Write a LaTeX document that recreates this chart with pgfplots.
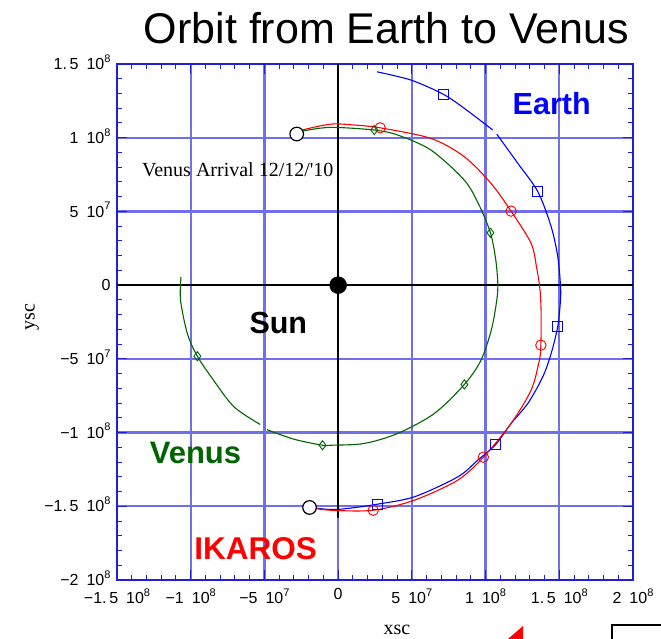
\documentclass[border=0pt]{standalone}
\usepackage{fontspec}
\setmainfont{Liberation Serif}
\setsansfont{Liberation Sans}
\usepackage{pgfplots}
\pgfplotsset{compat=1.18}
\definecolor{gridblue}{RGB}{112,112,236}
\definecolor{frameblue}{RGB}{30,30,220}
\definecolor{vgreen}{RGB}{0,100,0}
\pgfdeclarelayer{boxes}
\pgfplotsset{
  layers/mylayers/.define layer set={axis background,axis grid,boxes,axis ticks,axis lines,axis tick labels,pre main,main,axis descriptions,axis foreground}{},
}
\newcommand{\sci}[2]{#1\hspace{0.5em}10\raisebox{0.45em}{\fontsize{11}{11}\selectfont #2}}
\begin{document}
\begin{tikzpicture}
\begin{axis}[
  set layers=mylayers,
  at={(117pt,59pt)}, anchor=south west,
  scale only axis, width=516pt, height=516pt,
  xmin=-150, xmax=200, ymin=-200, ymax=150,
  xtick={-150,-100,-50,0,50,100,150,200},
  ytick={-200,-150,-100,-50,0,50,100,150},
  minor x tick num=4, minor y tick num=4,
  tick align=inside, major tick length=10pt, minor tick length=5pt,
  grid=major, grid style={color=gridblue, line width=2.2pt},
  axis line style={color=frameblue, line width=1.8pt},
  tick style={color=frameblue, line width=1pt},
  xticklabels={\sci{−1.\,5}{8},\sci{−1}{8},\sci{−5}{7},0,\sci{5}{7},\sci{1}{8},\sci{1.\,5}{8},\sci{2}{8}},
  yticklabels={\sci{−2}{8},\sci{−1.\,5}{8},\sci{−1}{8},\sci{−5}{7},0,\sci{5}{7},\sci{1}{8},\sci{1.\,5}{8}},
  ticklabel style={font=\sffamily\fontsize{16}{16}\selectfont, text=black},
  xticklabel style={anchor=north, yshift=-5pt},
  yticklabel style={anchor=base east, xshift=-3pt, yshift=-5.6pt},
  clip=false,
]
% white label boxes (over grid, under ticks)
\addplot[draw=none, fill=white, on layer=boxes] coordinates {(-142.5,-93) (-48.9,-93) (-48.9,-133.5) (-142.5,-133.5)} -- cycle;
\addplot[draw=none, fill=white, on layer=boxes] coordinates {(-142.5,86.9) (-2.8,86.9) (-2.8,69.3) (-142.5,69.3)} -- cycle;
\addplot[draw=none, fill=white, on layer=boxes] coordinates {(-97.1,-3.3) (-2.8,-3.3) (-2.8,-45.3) (-97.1,-45.3)} -- cycle;
\addplot[draw=none, fill=white, on layer=boxes] coordinates {(106.4,140.5) (193,140.5) (193,102.5) (106.4,102.5)} -- cycle;
\addplot[draw=none, fill=white, on layer=boxes] coordinates {(-146.6,-158) (97.6,-158) (97.6,-193) (-146.6,-193)} -- cycle;

% coordinate axes through the Sun
\addplot[black, line width=1.6pt] coordinates {(-150,0) (200,0)};
\addplot[black, line width=1.6pt] coordinates {(0,150) (0,-158)};

% Earth
\addplot[blue, line width=1.1pt, smooth, tension=0.5] coordinates {
(26.3,144.7) (49.4,139.1) (71.1,129.6) (85.6,119.9) (104.9,105.2)};
\addplot[blue, line width=1.1pt, smooth, tension=0.5] coordinates {
(107.6,102.4) (121.9,82.6) (135.5,63.3) (144.5,39.6) (149.0,19.2) (150.8,0)
(150.8,-10.2) (149.0,-27.8) (144.5,-46.3) (138.8,-62.2) (128.7,-80.2) (117.3,-93.8)
(106.9,-108.1) (94.7,-118.7) (81.1,-130.1) (51.6,-143.6) (26.5,-148.6) (6.4,-151.5)
(-5.0,-152.2) (-19.4,-150.8)};
\addplot[blue, only marks, mark=square, mark size=5pt, mark options={line width=0.9pt, fill=none}] coordinates {
(71.1,129.6) (135.5,63.3) (149.0,-27.8) (106.9,-108.1) (26.5,-148.6)};

% IKAROS
\addplot[red, line width=1.1pt, smooth, tension=0.5] coordinates {
(-19.4,-150.8) (-5.0,-152.7) (23.8,-152.7) (51.6,-145.9) (81.1,-132.3) (98.5,-116.7)
(117.3,-93.8) (130.9,-71.2) (136.5,-50.9) (137.5,-40.7) (137.7,-20) (136.9,-3)
(134.6,12) (130.9,28.3) (117.3,50.2) (103.7,69.0) (85.6,87.1) (63.0,99.5) (28.5,106.7)
(10.9,108.6) (-5.0,109.2) (-24.2,105.2) (-28.1,102.5)};
\addplot[red, only marks, mark=o, mark size=5.2pt, mark options={line width=0.9pt}] coordinates {
(23.8,-152.7) (98.5,-116.7) (137.5,-40.7) (117.3,50.2) (28.5,106.7)};

% Venus
\addplot[vgreen, line width=1.1pt, smooth, tension=0.5] coordinates {
(-28.1,102.5) (-24.2,104.5) (-5.0,107.0) (24.5,105.2) (40.4,101.8) (63.0,91.6)
(85.6,71.2) (95.5,54.5) (103.3,35.5) (106.8,18) (108.3,1.2) (107.6,-10.2) (104.0,-30)
(96.9,-50.9) (85.6,-67.4) (65.2,-87.1) (40.4,-100.6) (17.7,-107.4) (-5.0,-108.6)
(-10.6,-108.6) (-30,-104.5) (-48.4,-98.0)};
\addplot[vgreen, line width=1.1pt, smooth, tension=0.5] coordinates {
(-52.9,-94.5) (-70.6,-82.6) (-84.6,-64.4) (-95.5,-48.2) (-102.3,-32.8) (-106.9,-10.2) (-106.6,5.6)};
\addplot[vgreen, only marks, mark=diamond, mark size=4.6pt, mark options={line width=0.9pt, fill=none}] coordinates {
(24.5,105.2) (103.3,35.5) (85.6,-67.4) (-10.6,-108.6) (-95.5,-48.2)};

% Sun and start/arrival points
\addplot[only marks, mark=*, mark size=8.5pt, black] coordinates {(0,0)};
\addplot[only marks, mark=*, mark size=6.8pt, mark options={draw=black, fill=white, line width=1.2pt}] coordinates {(-28.1,102.5) (-19.4,-150.8)};
\end{axis}

% texts (positions in pt from the lower-left corner)
\node[font=\sffamily\fontsize{43}{43}\selectfont] at (386.5pt,611pt) {Orbit from Earth to Venus};
\node[font=\sffamily\bfseries\fontsize{30.5}{30}\selectfont, text=blue] at (551.7pt,535pt) {Earth};
\node[font=\sffamily\bfseries\fontsize{30.5}{30}\selectfont, text=black] at (278.3pt,315.7pt) {Sun};
\node[font=\sffamily\bfseries\fontsize{31}{30}\selectfont, text=vgreen] at (195.5pt,185.7pt) {Venus};
\node[font=\sffamily\bfseries\fontsize{31.5}{30}\selectfont, text=red] at (255.7pt,90.7pt) {IKAROS};
\node[font=\fontsize{20}{20}\selectfont] at (237.8pt,469pt) {Venus Arrival 12/12/\textquotesingle 10};
\node[font=\fontsize{20}{20}\selectfont] at (397pt,9pt) {xsc};
\node[font=\fontsize{20}{20}\selectfont, rotate=90] at (32pt,322pt) {ysc};
% cut-off items at the lower right edge
\fill[red] (523pt,13pt) -- (523pt,0pt) -- (508pt,0pt) -- cycle;
\draw[black, line width=1.5pt] (612pt,-10pt) -- (612pt,14pt) -- (670pt,14pt);
\pgfresetboundingbox
\useasboundingbox (0,0) rectangle (661pt,639pt);
\end{tikzpicture}
\end{document}
